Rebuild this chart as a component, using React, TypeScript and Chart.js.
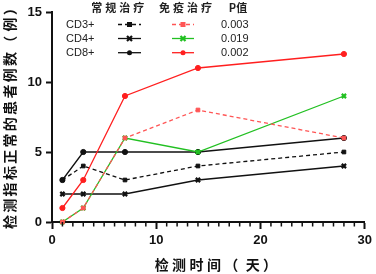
import React, { useEffect, useRef } from 'react';
import { Chart, registerables } from 'chart.js';
Chart.register(...registerables);

const days = [1, 3, 7, 14, 28];
const convCD3 = [3, 4, 3, 4, 5];
const convCD4 = [2, 2, 2, 3, 4];
const convCD8 = [3, 5, 5, 5, 6];
const immCD3 = [0, 1, 6, 8, 6];
const immCD4 = [0, 1, 6, 5, 9];
const immCD8 = [1, 3, 9, 11, 12];
const rowLabels = ['CD3+', 'CD4+', 'CD8+'];
const groupHeaders = ['常规治疗', '免疫治疗', 'P值'];
const pValues = ['0.003', '0.019', '0.002'];
const yTitle = '检测指标正常的患者例数（ 例）';
const xTitle = '检测时间（ 天）';

const BLACK = '#111111';
const RED = '#ff1f1f';
const PINK = '#ff5555';
const GREEN = '#22c022';

const CJK = '"Noto Sans CJK SC", sans-serif';
const LAT = '"Liberation Sans", Arial, sans-serif';

const pts = (vals: number[]) => vals.map((v, i) => ({ x: days[i], y: v }));

type Style = { color: string; dash: number[]; point: string };
const convStyles: Style[] = [
  { color: BLACK, dash: [4, 3], point: 'rect' },
  { color: BLACK, dash: [], point: 'crossRot' },
  { color: BLACK, dash: [], point: 'circle' },
];
const immStyles: Style[] = [
  { color: PINK, dash: [4, 3], point: 'rect' },
  { color: GREEN, dash: [], point: 'crossRot' },
  { color: RED, dash: [], point: 'circle' },
];

function drawMarker(ctx: CanvasRenderingContext2D, style: string, x: number, y: number, color: string) {
  ctx.save();
  ctx.fillStyle = color;
  ctx.strokeStyle = color;
  ctx.setLineDash([]);
  if (style === 'rect') {
    ctx.fillRect(x - 2.5, y - 2.5, 5, 5);
  } else if (style === 'circle') {
    ctx.beginPath();
    ctx.arc(x, y, 2.5, 0, Math.PI * 2);
    ctx.fill();
  } else {
    ctx.lineWidth = 2.2;
    ctx.beginPath();
    ctx.moveTo(x - 2.5, y - 2.5);
    ctx.lineTo(x + 2.5, y + 2.5);
    ctx.moveTo(x + 2.5, y - 2.5);
    ctx.lineTo(x - 2.5, y + 2.5);
    ctx.stroke();
  }
  ctx.restore();
}

// draw text char by char, first char centred at (0,0) along +x with given pitch
function drawSpaced(ctx: CanvasRenderingContext2D, text: string, pitch: number, spacePitch: number) {
  let pos = 0;
  for (const ch of Array.from(text)) {
    if (ch === ' ') {
      pos += spacePitch;
      continue;
    }
    ctx.fillText(ch, pos, 0);
    pos += pitch;
  }
}

const overlayPlugin = {
  id: 'overlay',
  afterDraw(chart: any) {
    const ctx: CanvasRenderingContext2D = chart.ctx;
    const xs = chart.scales.x;
    const ys = chart.scales.y;
    const bottom = ys.getPixelForValue(0);
    // minor ticks
    ctx.save();
    ctx.strokeStyle = BLACK;
    ctx.lineWidth = 1.5;
    for (let i = 1; i < 30; i++) {
      if (i % 10 === 0) continue;
      const x = xs.getPixelForValue(i);
      ctx.beginPath();
      ctx.moveTo(x, bottom);
      ctx.lineTo(x, bottom + 4.5);
      ctx.stroke();
    }
    ctx.restore();

    // axis titles
    ctx.save();
    ctx.fillStyle = BLACK;
    ctx.font = `bold 14px ${CJK}`;
    ctx.textAlign = 'center';
    ctx.textBaseline = 'middle';
    ctx.save();
    ctx.translate(161.7, 265);
    drawSpaced(ctx, xTitle, 17.4, 4);
    ctx.restore();
    ctx.save();
    ctx.translate(10, 222);
    ctx.rotate(-Math.PI / 2);
    drawSpaced(ctx, yTitle, 16.3, 2);
    ctx.restore();
    ctx.restore();

    // legend table
    ctx.save();
    ctx.fillStyle = '#222';
    ctx.font = `bold 11px ${CJK}`;
    ctx.textAlign = 'center';
    ctx.textBaseline = 'middle';
    ctx.save();
    ctx.translate(96.7, 7.5);
    drawSpaced(ctx, groupHeaders[0], 14, 4);
    ctx.restore();
    ctx.save();
    ctx.translate(164.5, 7.5);
    drawSpaced(ctx, groupHeaders[1], 14, 4);
    ctx.restore();
    ctx.fillText(groupHeaders[2], 238, 7.5);

    const rowY = [24.5, 38.5, 52.7];
    ctx.font = `11px ${LAT}`;
    rowLabels.forEach((lab, i) => {
      ctx.textAlign = 'left';
      ctx.fillStyle = '#222';
      ctx.fillText(lab, 66, rowY[i]);
      ctx.fillText(pValues[i], 221, rowY[i]);
      const pairs: [Style, number, number][] = [
        [convStyles[i], 118, 141],
        [immStyles[i], 172, 194],
      ];
      pairs.forEach(([st, x0, x1]) => {
        ctx.save();
        ctx.strokeStyle = st.color;
        ctx.lineWidth = 1.3;
        ctx.setLineDash(st.dash);
        ctx.beginPath();
        ctx.moveTo(x0, rowY[i]);
        ctx.lineTo(x1, rowY[i]);
        ctx.stroke();
        ctx.restore();
        drawMarker(ctx, st.point, (x0 + x1) / 2, rowY[i], st.color);
      });
    });
    ctx.restore();
  },
};

function makeDataset(vals: number[], st: Style, order: number) {
  return {
    data: pts(vals),
    borderColor: st.color,
    backgroundColor: st.color,
    borderWidth: 1.3,
    borderDash: st.dash,
    pointStyle: st.point,
    pointRadius: st.point === 'crossRot' ? 3 : 2.6,
    pointBorderWidth: st.point === 'crossRot' ? 2.2 : 1,
    pointBackgroundColor: st.color,
    pointBorderColor: st.color,
    tension: 0,
    fill: false,
    clip: false as any,
    order,
  };
}

export default function App() {
  const ref = useRef<HTMLCanvasElement>(null);
  useEffect(() => {
    document.body.style.margin = '0';
    const chart = new Chart(ref.current!, {
      type: 'line',
      data: {
        datasets: [
          makeDataset(convCD3, convStyles[0], 3),
          makeDataset(convCD4, convStyles[1], 4),
          makeDataset(convCD8, convStyles[2], 5),
          makeDataset(immCD3, immStyles[0], 0),
          makeDataset(immCD4, immStyles[1], 1),
          makeDataset(immCD8, immStyles[2], 2),
        ] as any,
      },
      options: {
        animation: false,
        responsive: false,
        devicePixelRatio: 1,
        layout: { padding: { top: 12, right: 9, left: 0, bottom: 0 } },
        plugins: { legend: { display: false }, tooltip: { enabled: false } },
        scales: {
          x: {
            type: 'linear',
            min: 0,
            max: 30,
            afterFit: (s: any) => { s.height = 52; },
            ticks: {
              stepSize: 10,
              color: BLACK,
              padding: 4,
              font: { family: LAT, size: 13, weight: 'bold' },
            },
            grid: { drawOnChartArea: false, drawTicks: true, tickLength: 7, tickWidth: 2, tickColor: BLACK },
            border: { color: BLACK, width: 2 },
          },
          y: {
            type: 'linear',
            min: 0,
            max: 15,
            afterFit: (s: any) => { s.width = 52; },
            ticks: {
              stepSize: 5,
              color: BLACK,
              padding: 4,
              font: { family: LAT, size: 13, weight: 'bold' },
            },
            grid: { drawOnChartArea: false, drawTicks: true, tickLength: 6, tickWidth: 2, tickColor: BLACK },
            border: { color: BLACK, width: 2 },
          },
        },
      } as any,
      plugins: [overlayPlugin],
    });
    return () => chart.destroy();
  }, []);
  return (
    <div style={{ width: 376, height: 274, background: '#fff' }}>
      <canvas ref={ref} width={376} height={274} style={{ display: 'block' }} />
    </div>
  );
}
